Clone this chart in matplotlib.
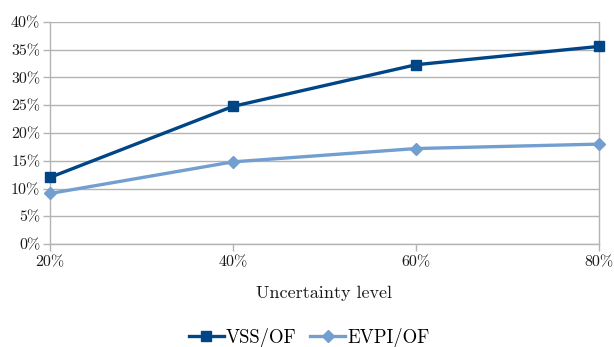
import matplotlib
matplotlib.use("Agg")
from matplotlib import pyplot as plt

plt.rcParams['font.family'] = 'serif'
plt.rcParams['font.serif'] = ['cmr10']
plt.rcParams['axes.unicode_minus'] = False

levels = ["20%", "40%", "60%", "80%"]
vss_of = [12.0, 24.8, 32.3, 35.6]
evpi_of = [9.1, 14.8, 17.2, 18.0]
y_ticks = [0, 5, 10, 15, 20, 25, 30, 35, 40]

fig = plt.figure(figsize=(6.14, 3.47), dpi=100)
ax = fig.add_axes([50 / 614, 103 / 347, 549 / 614, 222 / 347])

grid = "#b3b3b3"
x = list(range(len(levels)))
ax.plot(x, vss_of, color="#004586", lw=2.4, marker="s", ms=7.5,
        label="VSS/OF", zorder=3, clip_on=False)
ax.plot(x, evpi_of, color="#729fcf", lw=2.4, marker="D", ms=6,
        label="EVPI/OF", zorder=3, clip_on=False)

ax.set_xlim(0, 3)
ax.set_ylim(0, 40)
ax.set_xticks(x)
ax.set_xticklabels(levels)
ax.set_yticks(y_ticks)
ax.set_yticklabels([f"{v}%" for v in y_ticks])
ax.yaxis.grid(True, color=grid, lw=1)
ax.set_axisbelow(True)
ax.spines["top"].set_visible(False)
for s in ["left", "bottom", "right"]:
    ax.spines[s].set_color(grid)
    ax.spines[s].set_linewidth(1)
ax.tick_params(axis="both", colors=grid, labelcolor="#1a1a1a",
               labelsize=11.5, length=5, width=1)
ax.tick_params(axis="y", pad=2)
ax.tick_params(axis="x", pad=3)
ax.set_xlabel("Uncertainty level", fontsize=13, labelpad=12, color="#1a1a1a")

fig.legend(loc="center", bbox_to_anchor=(309 / 614, 9 / 347), ncol=2, frameon=False,
           fontsize=13.5, handlelength=1.9, columnspacing=0.7, handletextpad=0.1)

fig.savefig("out.png", dpi=100)
